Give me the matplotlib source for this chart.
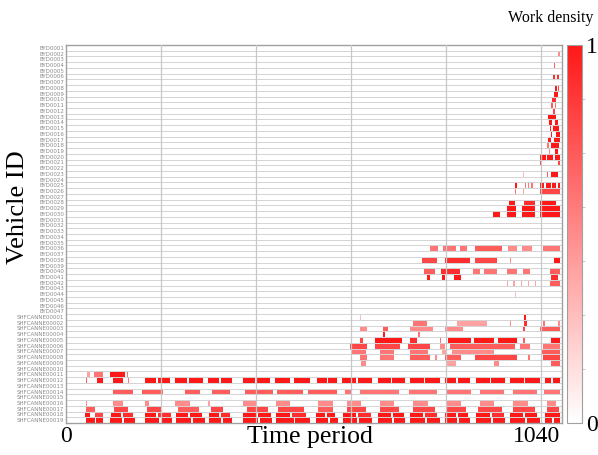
import numpy as np
import matplotlib
matplotlib.use("Agg")
import matplotlib.pyplot as plt
from matplotlib.colors import LinearSegmentedColormap

# ---------------- data ----------------
n_periods = 1040
n_upper = 47      # vehicles with short IDs
n_lower = 19      # SHFCANNE vehicles
upper_ids = ["BYD%04d" % (i + 1) for i in range(n_upper)]
lower_ids = ["SHFCANNE%05d" % (i + 1) for i in range(n_lower)]
vehicle_ids = upper_ids + lower_ids

x_ticks = [0, 1040]
x_tick_labels = ["0", "1040"]
cbar_ticks = [0, 1]

# work segments: (row, start period, end period, density)
segs_upper = [
    (1, 1034, 1037, 0.5), (3, 1025, 1028, 0.7),
    (5, 1023, 1027, 0.9), (5, 1031, 1036, 0.9),
    (7, 1027, 1031, 1.0), (7, 1033, 1035, 0.8),
    (8, 1025, 1033, 1.0), (9, 1021, 1030, 0.9),
    (10, 1018, 1024, 0.7), (10, 1027, 1029, 0.6), (11, 1023, 1027, 0.8),
    (12, 1012, 1030, 1.0), (13, 1014, 1022, 1.0), (13, 1027, 1033, 1.0),
    (14, 1016, 1020, 0.9), (14, 1024, 1035, 1.0),
    (15, 1018, 1022, 1.0), (15, 1029, 1037, 1.0),
    (16, 1012, 1018, 1.0), (16, 1026, 1037, 1.0),
    (17, 1010, 1014, 0.6), (17, 1020, 1035, 1.0),
    (18, 1014, 1016, 0.5), (18, 1027, 1033, 1.0),
    (19, 995, 1008, 1.0), (19, 1011, 1024, 1.0), (19, 1027, 1037, 1.0),
    (20, 995, 999, 0.8), (20, 1034, 1037, 0.8),
    (22, 960, 962, 0.3), (22, 1010, 1013, 0.7), (22, 1018, 1033, 1.0),
    (24, 943, 947, 1.0), (24, 964, 966, 0.6), (24, 970, 973, 0.6), (24, 976, 981, 0.6),
    (24, 995, 1005, 1.0), (24, 1008, 1018, 1.0), (24, 1021, 1030, 1.0), (24, 1033, 1037, 1.0),
    (25, 943, 946, 0.6), (25, 960, 962, 0.4), (25, 995, 1037, 0.8),
    (27, 930, 943, 1.0), (27, 962, 985, 0.9), (27, 995, 1030, 1.0),
    (28, 926, 945, 1.0), (28, 958, 985, 1.0), (28, 995, 1037, 1.0),
    (29, 897, 911, 1.0), (29, 926, 945, 1.0), (29, 958, 985, 1.0), (29, 995, 1037, 1.0),
]

segs_middle = [
    (35, 764, 781, 0.6), (35, 792, 819, 0.6), (35, 827, 843, 0.6), (35, 859, 916, 0.7),
    (35, 928, 947, 0.5), (35, 958, 979, 0.5), (35, 1002, 1037, 0.6),
    (37, 748, 779, 0.8), (37, 796, 848, 0.9), (37, 859, 905, 0.8),
    (37, 932, 934, 0.5), (37, 1025, 1037, 1.0),
    (39, 752, 775, 0.7), (39, 788, 827, 0.9), (39, 855, 870, 0.6), (39, 878, 905, 0.6),
    (39, 926, 947, 0.6), (39, 960, 975, 0.6), (39, 1016, 1037, 0.7),
    (40, 758, 764, 1.0), (40, 790, 796, 1.0), (40, 815, 830, 1.0), (40, 1020, 1033, 0.9),
    (41, 926, 929, 0.4), (41, 940, 943, 0.4), (41, 955, 958, 0.4), (41, 970, 973, 0.4),
    (41, 985, 988, 0.4), (41, 1016, 1037, 0.7),
    (43, 943, 946, 0.3),
]

segs_lower = [
    (47, 617, 620, 0.3), (47, 962, 966, 1.0),
    (48, 729, 758, 0.6), (48, 821, 884, 0.4), (48, 932, 936, 0.5), (48, 962, 968, 0.9),
    (48, 1002, 1006, 0.6), (48, 1034, 1037, 0.5),
    (49, 617, 632, 0.5), (49, 666, 676, 0.7), (49, 722, 771, 0.5), (49, 796, 834, 0.5),
    (49, 960, 964, 0.8), (49, 995, 1037, 0.7),
    (50, 666, 670, 1.0), (50, 740, 743, 0.6),
    (51, 617, 624, 0.8), (51, 649, 706, 1.0), (51, 722, 737, 0.9), (51, 785, 788, 0.6),
    (51, 802, 850, 1.0), (51, 858, 900, 1.0), (51, 908, 947, 1.0),
    (51, 960, 964, 0.7), (51, 1018, 1037, 1.0),
    (52, 596, 632, 0.8), (52, 649, 701, 0.8), (52, 718, 764, 0.8), (52, 785, 796, 0.5),
    (52, 806, 943, 0.7), (52, 953, 974, 0.6), (52, 1002, 1037, 0.6),
    (53, 600, 630, 0.6), (53, 660, 690, 0.6), (53, 722, 760, 0.6), (53, 790, 800, 0.4),
    (53, 810, 900, 0.5), (53, 1000, 1037, 0.7),
    (54, 617, 632, 0.6), (54, 660, 690, 0.6), (54, 722, 764, 0.7), (54, 775, 780, 0.5),
    (54, 796, 830, 0.7), (54, 859, 947, 0.8), (54, 970, 975, 0.6), (54, 1002, 1037, 0.8),
    (55, 620, 630, 0.5), (55, 800, 820, 0.4), (55, 900, 910, 0.5), (55, 1020, 1037, 0.7),
]

segs_bottom = [
    (57, 44, 50, 0.4), (57, 58, 78, 0.6), (57, 92, 124, 1.0), (57, 128, 131, 0.6),
    (58, 42, 44, 0.7), (58, 65, 78, 1.0), (58, 99, 120, 1.0), (58, 130, 133, 0.6),
    (58, 166, 190, 1.0), (58, 193, 218, 1.0), (58, 229, 255, 1.0), (58, 258, 288, 1.0),
    (58, 298, 322, 1.0), (58, 325, 349, 1.0), (58, 372, 398, 1.0), (58, 401, 428, 1.0),
    (58, 439, 470, 1.0), (58, 478, 512, 1.0), (58, 527, 548, 1.0), (58, 551, 569, 1.0),
    (58, 580, 610, 1.0), (58, 613, 643, 1.0), (58, 655, 682, 1.0), (58, 685, 712, 1.0),
    (58, 722, 752, 1.0), (58, 755, 785, 1.0), (58, 796, 820, 1.0), (58, 823, 848, 1.0),
    (58, 861, 890, 1.0), (58, 893, 922, 1.0), (58, 932, 962, 1.0), (58, 965, 995, 1.0),
    (58, 1006, 1020, 1.0), (58, 1023, 1037, 1.0),
    (60, 99, 141, 0.7), (60, 160, 204, 0.7), (60, 250, 281, 0.7), (60, 307, 344, 0.7),
    (60, 376, 435, 0.7), (60, 443, 498, 0.7), (60, 508, 569, 0.7), (60, 586, 600, 0.6),
    (60, 617, 700, 0.6), (60, 720, 780, 0.6), (60, 800, 850, 0.6), (60, 870, 920, 0.6),
    (60, 940, 990, 0.6), (60, 1005, 1037, 0.6),
    (62, 42, 45, 0.5), (62, 99, 120, 0.5), (62, 166, 175, 0.5), (62, 229, 260, 0.5),
    (62, 298, 302, 0.4), (62, 372, 400, 0.5), (62, 441, 470, 0.5), (62, 530, 560, 0.5),
    (62, 590, 620, 0.5), (62, 660, 690, 0.5), (62, 730, 760, 0.5), (62, 800, 830, 0.5),
    (62, 870, 900, 0.5), (62, 940, 970, 0.5), (62, 1010, 1030, 0.5),
    (63, 42, 60, 0.7), (63, 100, 130, 0.8), (63, 170, 200, 0.8), (63, 235, 280, 0.7),
    (63, 305, 330, 0.8), (63, 380, 425, 0.8), (63, 445, 500, 0.8), (63, 530, 560, 0.7),
    (63, 590, 630, 0.8), (63, 660, 700, 0.8), (63, 730, 775, 0.8), (63, 800, 840, 0.8),
    (63, 865, 915, 0.8), (63, 940, 985, 0.8), (63, 1010, 1035, 0.8),
    (64, 40, 50, 1.0), (64, 60, 78, 0.8), (64, 95, 115, 1.0), (64, 119, 140, 0.9),
    (64, 166, 190, 1.0), (64, 194, 220, 0.9), (64, 231, 257, 1.0), (64, 261, 285, 1.0),
    (64, 300, 322, 1.0), (64, 326, 345, 0.9), (64, 372, 400, 1.0), (64, 404, 430, 1.0),
    (64, 441, 470, 1.0), (64, 474, 505, 0.9), (64, 525, 545, 1.0), (64, 549, 565, 1.0),
    (64, 582, 610, 1.0), (64, 614, 640, 0.9), (64, 655, 683, 1.0), (64, 687, 710, 1.0),
    (64, 722, 750, 1.0), (64, 754, 780, 0.9), (64, 796, 820, 1.0), (64, 824, 845, 1.0),
    (64, 861, 890, 1.0), (64, 894, 920, 0.9), (64, 932, 960, 1.0), (64, 964, 990, 1.0),
    (64, 1006, 1037, 1.0),
    (65, 42, 60, 1.0), (65, 64, 78, 1.0), (65, 92, 118, 1.0), (65, 122, 145, 1.0),
    (65, 166, 195, 1.0), (65, 199, 223, 1.0), (65, 231, 262, 1.0), (65, 266, 292, 1.0),
    (65, 300, 325, 1.0), (65, 329, 349, 1.0), (65, 372, 403, 1.0), (65, 407, 433, 1.0),
    (65, 441, 478, 1.0), (65, 482, 512, 1.0), (65, 525, 550, 1.0), (65, 554, 571, 1.0),
    (65, 582, 612, 1.0), (65, 616, 643, 1.0), (65, 655, 685, 1.0), (65, 689, 712, 1.0),
    (65, 722, 755, 1.0), (65, 759, 785, 1.0), (65, 796, 822, 1.0), (65, 826, 848, 1.0),
    (65, 861, 893, 1.0), (65, 897, 922, 1.0), (65, 932, 965, 1.0), (65, 969, 995, 1.0),
    (65, 1006, 1022, 1.0), (65, 1026, 1037, 1.0),
]

# ---------------- build matrix ----------------
n_rows = len(vehicle_ids)
density = np.zeros((n_rows, n_periods))
for group in (segs_upper, segs_middle, segs_lower, segs_bottom):
    for r, s, e, v in group:
        density[r, s:e] = v

# ---------------- plot ----------------
plt.rcParams['font.family'] = ['Liberation Serif', 'DejaVu Serif']
fig = plt.figure(figsize=(5.98, 4.55), dpi=100)
ax = fig.add_axes([66 / 598, 1 - 423 / 455, (562 - 66) / 598, (423 - 45) / 455])
cax = fig.add_axes([567 / 598, 1 - 423 / 455, 15 / 598, (423 - 45) / 455])

cmap = LinearSegmentedColormap.from_list("wr", ["#ffffff", "#ff1818"])
im = ax.imshow(density, cmap=cmap, vmin=0, vmax=1, aspect='auto',
               interpolation='nearest', extent=(0, n_periods, n_rows, 0), zorder=1)

ax.set_xlim(0, 1044)
ax.set_ylim(n_rows, 0)
for r in range(1, n_rows):
    ax.axhline(r, color='#d4d4d4', lw=0.7, zorder=2)
for gx in [200, 400, 600, 800, 1000]:
    ax.axvline(gx, color='#c8c8c8', lw=0.9, zorder=3)

ax.set_xticks(x_ticks)
ax.set_xticklabels(x_tick_labels, fontsize=17)
labs = ax.get_xticklabels()
labs[1].set_ha('right')
ax.set_yticks(np.arange(n_rows) + 0.5)
ax.set_yticklabels(vehicle_ids, fontsize=4.0, color='#8a8a8a', family='DejaVu Sans')
ax.tick_params(axis='both', length=0, pad=1.5)
ax.tick_params(axis='x', pad=2)
for sp in ax.spines.values():
    sp.set_color('#a0a0a0')
    sp.set_linewidth(1.0)

fig.text(310 / 598, 1 - 437 / 455, "Time period", fontsize=18.5, ha='center', va='center')
fig.text(18 / 598, 1 - 207 / 455, "Vehicle ID", fontsize=19, ha='center', va='center',
         rotation=90)

cb = fig.colorbar(im, cax=cax, ticks=cbar_ticks)
cb.ax.set_yticklabels(["0", "1"], fontsize=17)
cb.ax.tick_params(length=0, pad=3)
cb.ax.set_yticks(np.arange(1, 7) / 7, minor=True)
cb.ax.tick_params(which='minor', length=2, color='#bbbbbb')
cb.outline.set_edgecolor('#a0a0a0')

fig.text(551 / 598, 1 - 18 / 455, "Work density", fontsize=11.5, ha='center', va='center')

fig.savefig("out.png", dpi=100)
